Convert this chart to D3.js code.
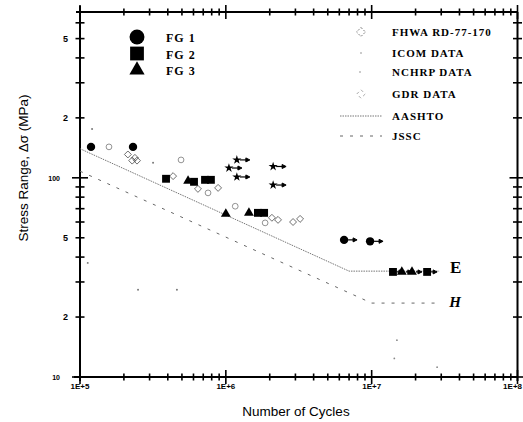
<!DOCTYPE html>
<html lang="en">
<head>
<meta charset="UTF-8">
<title>Stress Range vs Number of Cycles</title>
<script src="https://cdn.jsdelivr.net/npm/d3@7/dist/d3.min.js"></script>
<style>
  body { margin: 0; background: #fff; }
  #chart text { fill: #000; }
  .tick-label { font: bold 8px "Liberation Sans", Arial, sans-serif; }
  .axis-title { font: 13.5px "Liberation Sans", Arial, sans-serif; }
  .legend text { font: bold 11px "Liberation Serif", serif; letter-spacing: 1px; }
  .fg-legend text { font: bold 12px "Liberation Serif", serif; letter-spacing: 1px; }
  .curve-label { font: bold 17px "Liberation Serif", serif; }
</style>
</head>
<body>
<div id="chart"></div>
<script>
// values (N = cycles, S = stress range in MPa)
var xMajor = [1e5, 1e6, 1e7, 1e8];
var xLabels = ["1E+5", "1E+6", "1E+7", "1E+8"];
var yLabelVals = [10, 20, 50, 100, 200, 500];
var yLabels = ["10", "2", "5", "100", "2", "5"];

var fg1 = [[1.19e5, 143], [2.31e5, 143]];
var fg1Runout = [[6.47e6, 48.8], [9.75e6, 48]];
var fg2 = [[3.89e5, 98.9], [6.05e5, 95.5], [7.2e5, 97.7], [7.9e5, 97.7], [1.66e6, 66.7], [1.83e6, 66.7]];
var fg2Runout = [[1.40e7, 33.7], [2.40e7, 33.7]];
var fg3 = [[5.51e5, 96.6], [1.0e6, 65.9], [1.44e6, 66.7]];
var fg3Runout = [[1.61e7, 33.7], [1.89e7, 33.7]];

var starRunout = [[1.19e6, 123], [1.05e6, 112], [1.19e6, 101], [2.11e6, 114], [2.11e6, 92]];

var fhwa = [[2.13e5, 131], [2.38e5, 126], [2.28e5, 122], [2.46e5, 122], [4.35e5, 102],
            [6.44e5, 88], [8.85e5, 89], [2.07e6, 63], [2.28e6, 61.5], [2.89e6, 60], [3.23e6, 62.2]];
var gdr = [[1.58e5, 143], [4.93e5, 123], [7.55e5, 84], [1.16e6, 72], [1.86e6, 59.4]];
var icom = [[1.21e5, 176], [3.17e5, 119], [1.13e5, 37.4], [2.50e5, 27.4], [4.62e5, 27.4]];
var nchrp = [[1.49e7, 15.3], [1.43e7, 12.4], [2.81e7, 11.2]];

var aashto = [[1e5, 140], [7e6, 34], [2.9e7, 34]];
var jssc = [[1e5, 108], [1e7, 23.5], [3e7, 23.5]];

var fgNames = ["FG 1", "FG 2", "FG 3"];
var legendNames = ["FHWA RD-77-170", "ICOM DATA", "NCHRP DATA", "GDR DATA", "AASHTO", "JSSC"];

var svg = d3.select("#chart").append("svg").attr("width", 523).attr("height", 422);

var pLeft = 80, pRight = 517.5, pTop = 12, pBottom = 377;
var x = d3.scaleLog().domain([1e5, 1e8]).range([pLeft, pRight]);
var y = d3.scaleLog().domain([10, 680]).range([pBottom, pTop]);

function isMajor(d) { return Math.abs(Math.log10(d) - Math.round(Math.log10(d))) < 1e-6; }

// frame
var frame = svg.append("g").attr("stroke", "#000").attr("stroke-width", 2);
frame.append("line").attr("x1", pLeft - 6).attr("x2", pRight).attr("y1", pBottom).attr("y2", pBottom);
frame.append("line").attr("x1", pLeft - 4).attr("x2", pRight).attr("y1", pTop).attr("y2", pTop);
frame.append("line").attr("x1", pLeft).attr("x2", pLeft).attr("y1", pTop - 6).attr("y2", pBottom + 4);
frame.append("line").attr("x1", pRight).attr("x2", pRight).attr("y1", pTop).attr("y2", pBottom + 4);

// crossing ticks on all four sides
var tk = svg.append("g").attr("stroke", "#000").attr("stroke-width", 1.6);
[pBottom, pTop].forEach(function(yy) {
  tk.selectAll(null).data(x.ticks()).enter().append("line")
    .attr("x1", function(d) { return x(d); }).attr("x2", function(d) { return x(d); })
    .attr("y1", function(d) { return yy - (isMajor(d) ? 7 : 3.5); })
    .attr("y2", function(d) { return yy + (isMajor(d) ? 7 : 3.5); });
});
[pLeft, pRight].forEach(function(xx) {
  tk.selectAll(null).data(y.ticks()).enter().append("line")
    .attr("y1", function(d) { return y(d); }).attr("y2", function(d) { return y(d); })
    .attr("x1", function(d) { return xx - (isMajor(d) ? 8 : 4.5); })
    .attr("x2", function(d) { return xx + (isMajor(d) ? 8 : 4.5); });
});

// tick labels (the last one is pulled in so it stays on the page)
svg.selectAll(".xl").data(xMajor).enter().append("text")
  .attr("class", "tick-label")
  .attr("x", function(d, i) { return i === xMajor.length - 1 ? 522 : x(d); })
  .attr("y", pBottom + 12)
  .attr("text-anchor", function(d, i) { return i === xMajor.length - 1 ? "end" : "middle"; })
  .text(function(d, i) { return xLabels[i]; });

svg.selectAll(".yl").data(yLabelVals).enter().append("text")
  .attr("class", "tick-label")
  .attr("x", function(d, i) { return yLabels[i].length > 1 ? 60 : 68; })
  .attr("y", function(d) { return y(d) + 3; })
  .attr("text-anchor", "end")
  .style("font-size", function(d, i) { return yLabels[i].length > 1 ? "7px" : "9px"; })
  .text(function(d, i) { return yLabels[i]; });

// axis titles
svg.append("text").attr("class", "axis-title")
  .attr("x", 296).attr("y", 416).attr("text-anchor", "middle")
  .text("Number of Cycles");
svg.append("text").attr("class", "axis-title")
  .attr("transform", "translate(28,168) rotate(-90)")
  .attr("text-anchor", "middle")
  .text("Stress Range,  \u0394\u03c3 (MPa)");

// design curves
var line = d3.line().x(function(d) { return x(d[0]); }).y(function(d) { return y(d[1]); });
svg.append("path").datum(aashto).attr("d", line)
  .attr("fill", "none").attr("stroke", "#666").attr("stroke-width", 0.9)
  .attr("stroke-dasharray", "1.5,1");
svg.append("path").datum(jssc).attr("d", line)
  .attr("fill", "none").attr("stroke", "#666").attr("stroke-width", 1)
  .attr("stroke-dasharray", "3,7");

svg.append("text").attr("class", "curve-label")
  .attr("x", x(aashto[2][0]) + 11).attr("y", y(aashto[2][1]) + 2).text("E");
svg.append("text").attr("class", "curve-label")
  .attr("x", x(jssc[2][0]) + 8).attr("y", y(jssc[2][1]) + 4)
  .style("font-style", "italic").style("font-size", "15px").text("H");

// test data
function pts(data, type, size, fill, stroke, sw, rot) {
  svg.append("g").selectAll("path").data(data).enter().append("path")
    .attr("transform", function(d) {
      return "translate(" + x(d[0]) + "," + y(d[1]) + ")" + (rot ? " rotate(" + rot + ")" : "");
    })
    .attr("d", d3.symbol().type(type).size(size))
    .attr("fill", fill).attr("stroke", stroke || "none").attr("stroke-width", sw || 0);
}
function arrows(data, off, len) {
  var g = svg.append("g").attr("stroke", "#000").attr("fill", "#000");
  g.selectAll("line").data(data).enter().append("line")
    .attr("x1", function(d) { return x(d[0]) + off; })
    .attr("x2", function(d) { return x(d[0]) + off + len; })
    .attr("y1", function(d) { return y(d[1]); })
    .attr("y2", function(d) { return y(d[1]); })
    .attr("stroke-width", 1.2);
  g.selectAll("path").data(data).enter().append("path")
    .attr("d", function(d) {
      var ax = x(d[0]) + off + len, ay = y(d[1]);
      return "M" + (ax + 2) + "," + ay + "L" + (ax - 2) + "," + (ay - 2) + "L" + (ax - 2) + "," + (ay + 2) + "Z";
    });
}

pts(icom, d3.symbolCircle, 3, "#777");
pts(nchrp, d3.symbolCircle, 2.5, "#888");
pts(fhwa, d3.symbolSquare, 24, "none", "#555", 0.8, 45);
pts(gdr, d3.symbolCircle, 26, "none", "#777", 0.8);

pts(fg1.concat(fg1Runout), d3.symbolCircle, 55, "#000");
pts(fg2.concat(fg2Runout), d3.symbolSquare, 62, "#000");
pts(fg3.concat(fg3Runout), d3.symbolTriangle, 42, "#000");
pts(starRunout, d3.symbolStar, 26, "#000");

arrows(fg1Runout, 4, 7);
arrows(fg2Runout.concat(fg3Runout), 4, 4);
arrows(starRunout, 3, 8);

// FG legend
var fgSym = [d3.symbolCircle, d3.symbolSquare, d3.symbolTriangle];
var fgSize = [175, 190, 100];
var fgLeg = svg.append("g").attr("class", "fg-legend");
fgLeg.selectAll("path").data(fgNames).enter().append("path")
  .attr("transform", function(d, i) { return "translate(137," + (37 + i * 16.5) + ")"; })
  .attr("d", function(d, i) { return d3.symbol().type(fgSym[i]).size(fgSize[i])(); })
  .attr("fill", "#000");
fgLeg.selectAll("text").data(fgNames).enter().append("text")
  .attr("x", 166).attr("y", function(d, i) { return 42 + i * 16.5; })
  .text(function(d) { return d; });

// data / curve legend
var leg = svg.append("g").attr("class", "legend");
var rowY = [32, 53, 72, 94, 116, 136];
leg.selectAll("text").data(legendNames).enter().append("text")
  .attr("x", 392).attr("y", function(d, i) { return rowY[i] + 4; })
  .text(function(d) { return d; });
leg.append("path")
  .attr("d", d3.symbol().type(d3.symbolSquare).size(40)())
  .attr("transform", "translate(361," + rowY[0] + ") rotate(45)")
  .attr("fill", "none").attr("stroke", "#666").attr("stroke-width", 0.8).attr("stroke-dasharray", "2,1.5");
leg.append("circle").attr("cx", 361).attr("cy", rowY[1]).attr("r", 0.8).attr("fill", "#888");
leg.append("circle").attr("cx", 360).attr("cy", rowY[2]).attr("r", 0.8).attr("fill", "#888");
leg.append("path")
  .attr("d", d3.symbol().type(d3.symbolSquare).size(36)())
  .attr("transform", "translate(361," + rowY[3] + ") rotate(45)")
  .attr("fill", "none").attr("stroke", "#999").attr("stroke-width", 0.8).attr("stroke-dasharray", "3,3");
leg.append("line").attr("x1", 340).attr("x2", 382).attr("y1", rowY[4]).attr("y2", rowY[4])
  .attr("stroke", "#777").attr("stroke-dasharray", "1.5,1");
leg.append("line").attr("x1", 340).attr("x2", 382).attr("y1", rowY[5]).attr("y2", rowY[5])
  .attr("stroke", "#666").attr("stroke-dasharray", "3,7");
</script>
</body>
</html>
